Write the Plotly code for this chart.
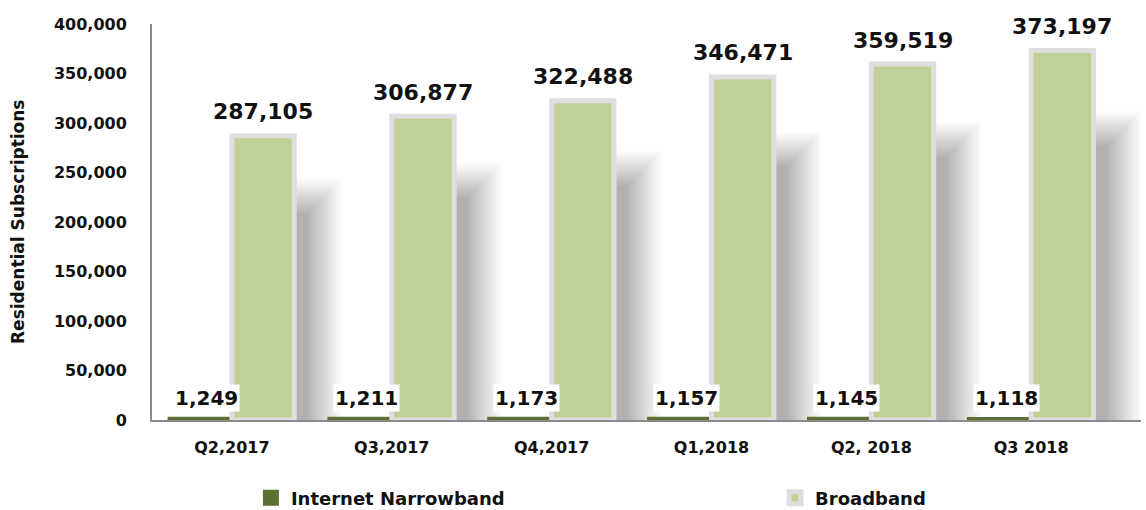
import plotly.graph_objects as go

categories = ["Q2,2017", "Q3,2017", "Q4,2017", "Q1,2018", "Q2, 2018", "Q3 2018"]
narrowband = [1249, 1211, 1173, 1157, 1145, 1118]
broadband = [287105, 306877, 322488, 346471, 359519, 373197]
y_ticks = [0, 50000, 100000, 150000, 200000, 250000, 300000, 350000, 400000]

FONT = "DejaVu Sans"
BARGAP = 0.22
half = (1 - BARGAP) / 2  # width of one bar in category units
px = 1 / 165.0  # approx one pixel in category units (x)
py = 400000 / 396.0  # approx one pixel in value units (y)

fig = go.Figure()
fig.add_trace(go.Bar(
    name="Internet Narrowband", x=categories, y=narrowband,
    marker=dict(color="#5b7031", line=dict(color="#5b7031", width=4)),
    legend="legend",
))
fig.add_trace(go.Bar(
    name="Broadband", x=categories, y=broadband,
    marker=dict(color="#c0d198", line=dict(color="#dedede", width=5)),
    legend="legend2",
))

# soft blurred shadows to the right of each broadband bar
shapes = []
blur_steps = 26
for i, v in enumerate(broadband):
    right = i + half
    for k in range(blur_steps):
        e = -18 + k * 1.4
        shapes.append(dict(
            type="rect", xref="x", yref="y", layer="below",
            x0=right - 20 * px, x1=right + (32 + e) * px,
            y0=0, y1=v * 0.79 + e * py,
            fillcolor="rgba(0,0,0,0.0105)", line=dict(width=0),
        ))

annotations = []
for i, v in enumerate(broadband):
    annotations.append(dict(
        x=i + half / 2, y=v, xref="x", yref="y", text=f"{v:,}",
        showarrow=False, yanchor="middle", yshift=24,
        font=dict(family=FONT, size=22, color="#111111", weight="bold"),
    ))
for i, v in enumerate(narrowband):
    annotations.append(dict(
        x=i - half / 2, y=v, xref="x", yref="y", text=f"{v:,}",
        showarrow=False, yanchor="middle", yshift=21, xshift=6,
        bgcolor="white", borderpad=1,
        font=dict(family=FONT, size=20, color="#111111", weight="bold"),
    ))
annotations.append(dict(
    x=-0.1355, y=0.5, xref="paper", yref="paper", text="Residential Subscriptions",
    textangle=-90, showarrow=False, xanchor="center", yanchor="middle",
    font=dict(family=FONT, size=17, color="#111111", weight="bold"),
))

legend_common = dict(
    orientation="h", xanchor="left", y=-0.197, yanchor="middle",
    font=dict(family=FONT, size=18, color="#111111", weight="bold"),
    bgcolor="rgba(0,0,0,0)",
)
fig.update_layout(
    width=1146, height=510,
    margin=dict(l=152, r=5, t=24, b=90, autoexpand=False),
    paper_bgcolor="white", plot_bgcolor="white",
    barmode="group", bargap=BARGAP, bargroupgap=0,
    font=dict(family=FONT, color="#111111"),
    shapes=shapes, annotations=annotations,
    showlegend=True,
    legend=dict(x=0.10, **legend_common),
    legend2=dict(x=0.63, **legend_common),
)
fig.update_yaxes(
    range=[0, 400000], tickvals=y_ticks, tickformat=",",
    showgrid=False, zeroline=False,
    showline=True, linecolor="#8a8a8a", linewidth=2,
    ticks="", ticklabelstandoff=20,
    tickfont=dict(family=FONT, size=16, color="#111111", weight="bold"),
)
fig.update_xaxes(
    showgrid=False, zeroline=False,
    showline=True, linecolor="#8a8a8a", linewidth=2,
    ticks="", ticklabelstandoff=12,
    tickfont=dict(family=FONT, size=16, color="#111111", weight="bold"),
)

fig.write_html("out.html")
